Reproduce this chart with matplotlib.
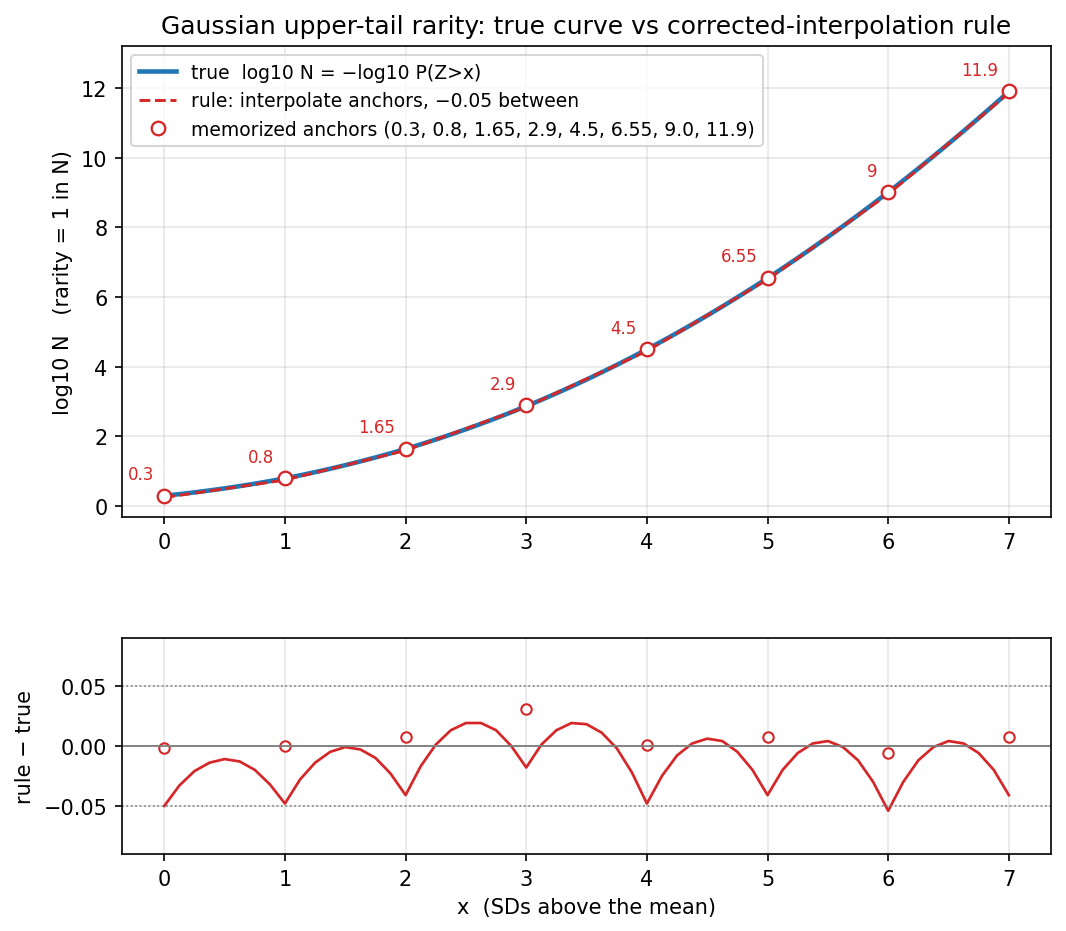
import matplotlib
matplotlib.use("Agg")
import matplotlib.pyplot as plt
import numpy as np

anchor_x = [0, 1, 2, 3, 4, 5, 6, 7]
anchor_y = [0.3, 0.8, 1.65, 2.9, 4.5, 6.55, 9.0, 11.9]
anchor_labels = ["0.3", "0.8", "1.65", "2.9", "4.5", "6.55", "9", "11.9"]
# anchor minus true value at each anchor
anchor_err = [-0.002, 0.000, 0.007, 0.031, 0.001, 0.007, -0.006, 0.007]

resid = [-0.050, -0.033, -0.021, -0.014, -0.011, -0.013, -0.020, -0.032,
         -0.048, -0.028, -0.014, -0.005, -0.001, -0.003, -0.010, -0.023,
         -0.041, -0.017, 0.001, 0.013, 0.019, 0.019, 0.013, 0.000,
         -0.018, 0.001, 0.013, 0.019, 0.018, 0.011, -0.002, -0.022,
         -0.048, -0.025, -0.008, 0.002, 0.006, 0.004, -0.005, -0.020,
         -0.041, -0.020, -0.006, 0.002, 0.004, -0.001, -0.012, -0.030,
         -0.054, -0.030, -0.012, -0.001, 0.004, 0.002, -0.006, -0.020,
         -0.041]

xs = np.linspace(0, 7, len(resid))
rule = np.interp(xs, anchor_x, anchor_y) - 0.05
true = rule - np.array(resid)

fig, (ax1, ax2) = plt.subplots(2, 1, figsize=(1066 / 150, 932 / 150), dpi=150,
                               gridspec_kw={"height_ratios": [499, 229]})
fig.subplots_adjust(left=0.1145, right=0.986, top=0.9496, bottom=0.0826, hspace=0.35)

ax1.plot(xs, true, color="#1f77b4", lw=2.2, label="true  log10 N = \u2212log10 P(Z>x)")
ax1.plot(xs, rule, color="#d62728", lw=1.4, ls="--",
         label="rule: interpolate anchors, \u22120.05 between")
ax1.plot(anchor_x, anchor_y, "o", mfc="white", mec="#d62728", ms=6.5, mew=1.1,
         label="memorized anchors (0.3, 0.8, 1.65, 2.9, 4.5, 6.55, 9.0, 11.9)")
for x, y, t in zip(anchor_x, anchor_y, anchor_labels):
    ax1.annotate(t, (x, y), xytext=(-5, 6), textcoords="offset points",
                 ha="right", va="bottom", color="#d62728", fontsize=8)
ax1.set_ylim(-0.32, 13.2)
ax1.set_xlim(-0.35, 7.35)
ax1.set_ylabel("log10 N   (rarity = 1 in N)")
ax1.set_title("Gaussian upper-tail rarity: true curve vs corrected-interpolation rule")
ax1.grid(alpha=0.3)
ax1.legend(loc="upper left", fontsize=9)

ax2.plot(xs, resid, color="#d62728", lw=1.3)
ax2.plot(anchor_x, anchor_err, "o", mfc="white", mec="#d62728", ms=5, mew=1.0)
ax2.axhline(0, color="gray", lw=0.9)
ax2.axhline(0.05, color="gray", lw=0.8, ls=":")
ax2.axhline(-0.05, color="gray", lw=0.8, ls=":")
ax2.set_ylim(-0.09, 0.09)
ax2.set_xlim(-0.35, 7.35)
ax2.set_yticks([-0.05, 0, 0.05])
ax2.set_ylabel("rule \u2212 true")
ax2.set_xlabel("x  (SDs above the mean)")
ax2.grid(alpha=0.3)

fig.savefig("out.png")
